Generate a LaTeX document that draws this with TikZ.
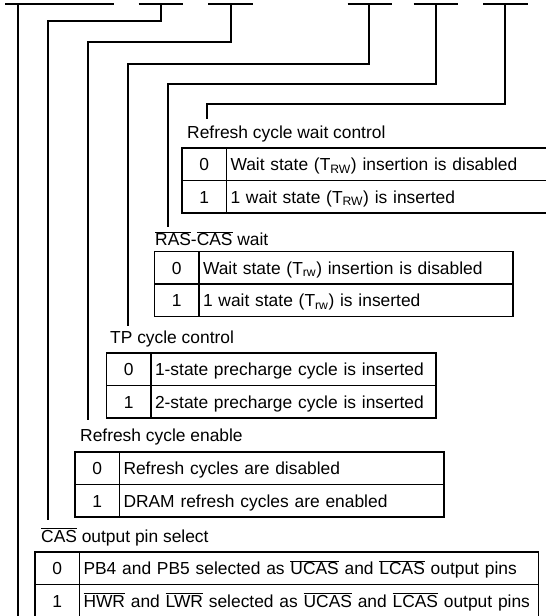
\documentclass[tikz,border=0pt]{standalone}
\usepackage{fontspec}
\setmainfont{Liberation Sans}
\usetikzlibrary{positioning}
\newcommand{\sigbar}[1]{$\overline{\mbox{#1}}$}
\tikzset{
  lbl/.style={anchor=base west, inner sep=0pt, font=\fontsize{17.4}{20}\selectfont},
  numcell/.style={draw, line width=1.1pt, anchor=north west, outer sep=0pt,
    minimum width=44.5pt, minimum height=32.5pt, inner sep=0pt,
    text height=12.5pt, text depth=0pt, font=\fontsize{17.4}{20}\selectfont},
  txtcell/.style={draw, line width=1.1pt, outer sep=0pt, minimum height=32.5pt,
    inner xsep=4pt, inner ysep=0pt, text width=#1, align=left,
    text height=12.5pt, text depth=0pt, font=\fontsize{17.4}{20}\selectfont},
  bitline/.style={line width=1.1pt},
}

\begin{document}
\begin{tikzpicture}[x=1pt, y=-1pt]

  \useasboundingbox (0,0) rectangle (546,616);
  \clip (0,0) rectangle (546,616);

  % register bits
  \draw[bitline] (5,4) -- (114,4);
  \draw[bitline] (138.5,4) -- (183,4);
  \draw[bitline] (208,4) -- (253,4);
  \draw[bitline] (347.5,4) -- (392,4);
  \draw[bitline] (413.5,4) -- (458,4);
  \draw[bitline] (483,4) -- (528,4);

  \coordinate (s0) at (18,4);
  \coordinate (s5) at (161,4);
  \coordinate (s4) at (231,4);
  \coordinate (s3) at (369,4);
  \coordinate (s2) at (436,4);
  \coordinate (s1) at (505,4);

  \coordinate (e0) at (18,616);
  \coordinate (e5) at (48,520);
  \coordinate (e4) at (88,420);
  \coordinate (e3) at (128,326);
  \coordinate (e2) at (168,227);
  \coordinate (e1) at (207,119);

  \draw[bitline] (s0) -- (e0);
  \draw[bitline] (s5) -- ++(0,17) -| (e5);
  \draw[bitline] (s4) -- ++(0,38) -| (e4);
  \draw[bitline] (s3) -- ++(0,60) -| (e3);
  \draw[bitline] (s2) -- ++(0,80) -| (e2);
  \draw[bitline] (s1) -- ++(0,100) -| (e1);

  % refresh cycle wait control
  \node[lbl] (l1) at (187,138) {Refresh cycle wait control};
  \node[numcell] (w0) at (182,148) {0};
  \node[txtcell=326pt, right=0pt of w0] (w0t) {Wait state (T\textsubscript{RW}) insertion is disabled};
  \node[numcell, below=0pt of w0] (w1) {1};
  \node[txtcell=326pt, right=0pt of w1] (w1t) {1 wait state (T\textsubscript{RW}) is inserted};

  % RAS-CAS wait
  \node[lbl] (l2) at (155,245.5) {\sigbar{RAS}-\sigbar{CAS} wait};
  \node[numcell] (r0) at (154.5,251.5) {0};
  \node[txtcell=306pt, right=0pt of r0] (r0t) {Wait state (T\textsubscript{rw}) insertion is disabled};
  \node[numcell, below=0pt of r0] (r1) {1};
  \node[txtcell=306pt, right=0pt of r1] (r1t) {1 wait state (T\textsubscript{rw}) is inserted};

  % TP cycle control
  \node[lbl] (l3) at (110,343) {TP cycle control};
  \node[numcell] (p0) at (106.5,353) {0};
  \node[txtcell=277pt, right=0pt of p0] (p0t) {1-state precharge cycle is inserted};
  \node[numcell, below=0pt of p0] (p1) {1};
  \node[txtcell=277pt, right=0pt of p1] (p1t) {2-state precharge cycle is inserted};

  % refresh cycle enable
  \node[lbl] (l4) at (80,441) {Refresh cycle enable};
  \node[numcell] (f0) at (75,452) {0};
  \node[txtcell=316.5pt, right=0pt of f0] (f0t) {Refresh cycles are disabled};
  \node[numcell, below=0pt of f0] (f1) {1};
  \node[txtcell=316.5pt, right=0pt of f1] (f1t) {DRAM refresh cycles are enabled};

  % CAS output pin select
  \node[lbl] (l5) at (41,542) {\sigbar{CAS} output pin select};
  \node[numcell] (c0) at (35,552) {0};
  \node[txtcell=451pt, right=0pt of c0] (c0t) {PB4 and PB5 selected as \sigbar{UCAS} and \sigbar{LCAS} output pins};
  \node[numcell, below=0pt of c0] (c1) {1};
  \node[txtcell=451pt, right=0pt of c1] (c1t) {\sigbar{HWR} and \sigbar{LWR} selected as \sigbar{UCAS} and \sigbar{LCAS} output pins};

\end{tikzpicture}
\end{document}
